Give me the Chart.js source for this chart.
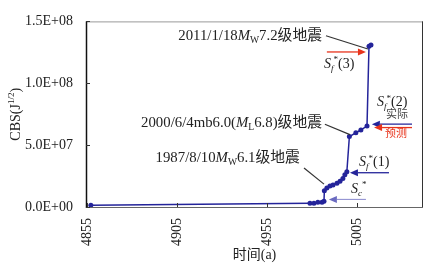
<!DOCTYPE html>
<html>
<head>
<meta charset="utf-8">
<script src="https://cdn.jsdelivr.net/npm/chart.js@4"></script>
<style>
  html, body { margin: 0; padding: 0; background: #fff; }
  #wrap { width: 429px; height: 267px; }
</style>
</head>
<body>
<div id="wrap"><canvas id="cbsChart" width="429" height="267"></canvas></div>
<script>
// 时间 (a) 与 CBS 累积值
const years = [4857.2, 4978.9, 4981.1, 4983.3, 4985.6, 4986.7, 4986.9, 4988.3, 4990.0, 4991.7,
    4993.9, 4995.6, 4997.2, 4998.3, 4999.4, 5000.8, 5004.4, 5007.2, 5010.6, 5011.7, 5012.8];
const cbsValues = [1.5e6, 3.1e6, 3.1e6, 3.8e6, 3.8e6, 4.6e6, 1.31e7, 1.54e7, 1.69e7, 1.77e7,
    1.92e7, 2.08e7, 2.31e7, 2.61e7, 2.85e7, 5.69e7, 6.0e7, 6.23e7, 6.54e7, 1.30e8, 1.31e8];
const xTicks = [4855, 4905, 4955, 5005];
const yTicks = [0, 5e7, 1e8, 1.5e8];

const SERIF = '"Liberation Serif", "Noto Sans CJK SC", serif';
const BLUE = '#24249a';
const RED = '#e8341c';

// 标注 (数据坐标)
const notes = [
    { runs: [{ t: '2011/1/18' }, { t: 'M', it: 1 }, { t: 'W', sub: 1 }, { t: '7.2级地震' }], x: 4985.6, y: 1.384e8, align: 'right', size: 14.8 },
    { runs: [{ t: '2000/6/4mb6.0(' }, { t: 'M', it: 1 }, { t: 'L', sub: 1 }, { t: '6.8)级地震' }], x: 4985.6, y: 6.77e7, align: 'right', size: 14.8 },
    { runs: [{ t: '1987/8/10' }, { t: 'M', it: 1 }, { t: 'W', sub: 1 }, { t: '6.1级地震' }], x: 4973.3, y: 3.92e7, align: 'right', size: 14.8 },
    { runs: [{ t: 'S', it: 1 }, { t: 'f', it: 1, sub: 1 }, { t: '*', sup: 1 }, { t: '(3)' }], x: 4986.7, y: 1.154e8, align: 'left' },
    { runs: [{ t: 'S', it: 1 }, { t: 'f', it: 1, sub: 1 }, { t: '*', sup: 1 }, { t: '(2)' }], x: 5016.1, y: 8.46e7, align: 'left' },
    { runs: [{ t: '实际' }], x: 5027.2, y: 7.46e7, align: 'center', size: 11, color: '#444' },
    { runs: [{ t: '预测' }], x: 5026.7, y: 5.92e7, align: 'center', size: 11, color: RED },
    { runs: [{ t: 'S', it: 1 }, { t: 'f', it: 1, sub: 1 }, { t: '*', sup: 1 }, { t: '(1)' }], x: 5006.1, y: 3.61e7, align: 'left' },
    { runs: [{ t: 'S', it: 1 }, { t: 'c', it: 1, sub: 1 }, { t: '*', sup: 1 }], x: 5001.7, y: 1.46e7, align: 'left' }
];
const leaders = [
    [4987.8, 1.384e8, 5011.1, 1.277e8],
    [4987.2, 6.69e7, 5001.1, 5.85e7],
    [4975.6, 3.15e7, 4986.7, 1.85e7]
];
const arrows = [
    { from: [4988.3, 1.253e8], to: [5010.0, 1.253e8], color: RED, w: 1.3 },
    { from: [5035.6, 6.69e7], to: [5013.3, 6.69e7], color: BLUE, w: 1.3 },
    { from: [5035.6, 6.42e7], to: [5014.5, 6.42e7], color: RED, w: 1.3 },
    { from: [5022.8, 2.77e7], to: [5001.1, 2.77e7], color: BLUE, w: 1.3 },
    { from: [5010.0, 6.15e6], to: [4989.4, 6.15e6], color: '#6a6ac0', w: 0.8 }
];

function sciLabel(v) {
    const parts = Number(v).toExponential(1).split('e');
    let exp = parseInt(parts[1], 10);
    const sign = exp < 0 ? '-' : '+';
    exp = Math.abs(exp);
    return parts[0] + 'E' + sign + (exp < 10 ? '0' : '') + exp;
}

function drawRuns(ctx, runs, x, y, align, size) {
    const fontOf = r => (r.it ? 'italic ' : '') + ((r.sub || r.sup) ? size * 0.65 : size) + 'px ' + SERIF;
    let total = 0;
    runs.forEach(r => { ctx.font = fontOf(r); r.w = ctx.measureText(r.t).width; total += r.w; });
    let cx = align === 'right' ? x - total : align === 'center' ? x - total / 2 : x;
    ctx.textAlign = 'left';
    ctx.textBaseline = 'middle';
    runs.forEach(r => {
        ctx.font = fontOf(r);
        const dy = r.sub ? size * 0.3 : r.sup ? -size * 0.3 : 0;
        ctx.fillText(r.t, cx, y + dy);
        cx += r.w;
    });
}

function drawArrow(ctx, x1, y1, x2, y2, color, w) {
    const ang = Math.atan2(y2 - y1, x2 - x1);
    const hl = 8, hw = 3.5;
    ctx.strokeStyle = color;
    ctx.fillStyle = color;
    ctx.lineWidth = w;
    ctx.beginPath();
    ctx.moveTo(x1, y1);
    ctx.lineTo(x2 - hl * Math.cos(ang), y2 - hl * Math.sin(ang));
    ctx.stroke();
    ctx.beginPath();
    ctx.moveTo(x2, y2);
    ctx.lineTo(x2 - hl * Math.cos(ang) + hw * Math.sin(ang), y2 - hl * Math.sin(ang) - hw * Math.cos(ang));
    ctx.lineTo(x2 - hl * Math.cos(ang) - hw * Math.sin(ang), y2 - hl * Math.sin(ang) + hw * Math.cos(ang));
    ctx.closePath();
    ctx.fill();
}

const decor = {
    id: 'decor',
    afterDraw(chart) {
        const ctx = chart.ctx;
        const a = chart.chartArea;
        const xs = chart.scales.x, ys = chart.scales.y;
        ctx.save();

        // 边框
        ctx.lineWidth = 1;
        ctx.strokeStyle = '#999';
        ctx.beginPath();
        ctx.moveTo(a.left, a.top + 0.5); ctx.lineTo(a.right, a.top + 0.5);
        ctx.stroke();
        ctx.strokeStyle = '#666';
        ctx.beginPath();
        ctx.moveTo(a.left, a.bottom + 0.5); ctx.lineTo(a.right, a.bottom + 0.5);
        ctx.stroke();
        ctx.strokeStyle = '#333';
        ctx.beginPath();
        ctx.moveTo(a.right - 0.5, a.top); ctx.lineTo(a.right - 0.5, a.bottom);
        ctx.stroke();
        ctx.strokeStyle = '#111';
        ctx.lineWidth = 1.5;
        ctx.beginPath();
        ctx.moveTo(a.left + 0.5, a.top); ctx.lineTo(a.left + 0.5, a.bottom + 1);
        ctx.stroke();

        // 内向刻度
        ctx.lineWidth = 1;
        ctx.strokeStyle = '#333';
        yTicks.forEach(v => {
            const py = Math.round(ys.getPixelForValue(v)) + 0.5;
            ctx.beginPath(); ctx.moveTo(a.left, py); ctx.lineTo(a.left + 4, py); ctx.stroke();
        });
        xTicks.forEach(v => {
            const px = Math.round(xs.getPixelForValue(v)) + 0.5;
            ctx.beginPath(); ctx.moveTo(px, a.bottom); ctx.lineTo(px, a.bottom - 4); ctx.stroke();
        });

        // 引线
        ctx.strokeStyle = '#333';
        ctx.lineWidth = 1.2;
        leaders.forEach(l => {
            ctx.beginPath();
            ctx.moveTo(xs.getPixelForValue(l[0]), ys.getPixelForValue(l[1]));
            ctx.lineTo(xs.getPixelForValue(l[2]), ys.getPixelForValue(l[3]));
            ctx.stroke();
        });

        // 箭头
        arrows.forEach(ar => {
            drawArrow(ctx, xs.getPixelForValue(ar.from[0]), ys.getPixelForValue(ar.from[1]),
                xs.getPixelForValue(ar.to[0]), ys.getPixelForValue(ar.to[1]), ar.color, ar.w);
        });

        // 文字
        notes.forEach(n => {
            ctx.fillStyle = n.color || '#222';
            drawRuns(ctx, n.runs, xs.getPixelForValue(n.x), ys.getPixelForValue(n.y), n.align, n.size || 14);
        });

        // Y 轴标题
        ctx.translate(16, (a.top + a.bottom) / 2);
        ctx.rotate(-Math.PI / 2);
        ctx.fillStyle = '#222';
        drawRuns(ctx, [{ t: 'CBS(J' }, { t: '1/2', sup: 1 }, { t: ')' }], 0, 0, 'center', 14);
        ctx.restore();
    }
};

new Chart(document.getElementById('cbsChart'), {
    type: 'line',
    data: {
        datasets: [{
            data: years.map((x, i) => ({ x: x, y: cbsValues[i] })),
            borderColor: BLUE,
            backgroundColor: BLUE,
            borderWidth: 1.5,
            pointRadius: 2.5,
            pointBorderWidth: 0,
            tension: 0
        }]
    },
    options: {
        responsive: false,
        animation: false,
        devicePixelRatio: 1,
        layout: { padding: { left: 0, right: 6, top: 12, bottom: 0 } },
        plugins: { legend: { display: false }, tooltip: { enabled: false } },
        scales: {
            x: {
                type: 'linear',
                min: 4854.5,
                max: 5041.7,
                afterBuildTicks: s => { s.ticks = xTicks.map(v => ({ value: v })); },
                afterFit: s => { s.height = 60; },
                grid: { display: false, drawTicks: false },
                border: { display: false },
                ticks: {
                    autoSkip: false,
                    minRotation: 90,
                    maxRotation: 90,
                    padding: 11,
                    color: '#222',
                    font: { family: SERIF, size: 14 },
                    callback: v => String(v)
                },
                title: {
                    display: true,
                    text: '时间(a)',
                    color: '#222',
                    font: { family: SERIF, size: 14 },
                    padding: { top: 0, bottom: 3 }
                }
            },
            y: {
                min: 0,
                max: 1.5e8,
                afterBuildTicks: s => { s.ticks = yTicks.map(v => ({ value: v })); },
                afterFit: s => { s.width = 86; },
                grid: { display: false, drawTicks: false },
                border: { display: false },
                ticks: {
                    padding: 13,
                    color: '#222',
                    font: { family: SERIF, size: 14 },
                    callback: v => sciLabel(v)
                }
            }
        }
    },
    plugins: [decor]
});
</script>
</body>
</html>
